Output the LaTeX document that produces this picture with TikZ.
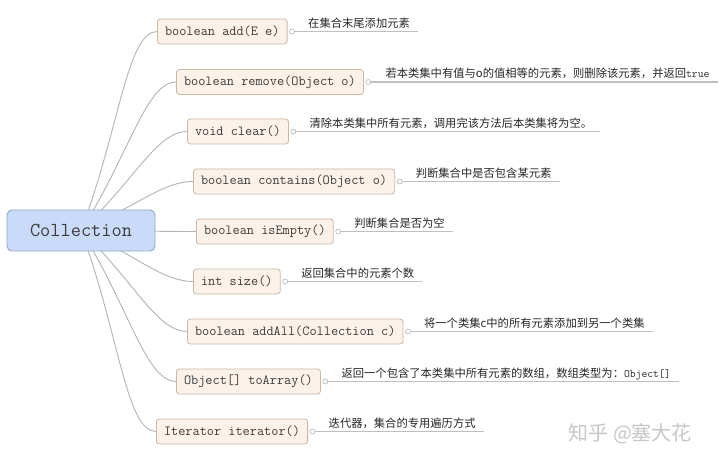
\documentclass[tikz,border=0pt]{standalone}
\usepackage{fontspec}
\newfontfamily\cjk{Noto Sans CJK SC}
\usetikzlibrary{calc,backgrounds}

\definecolor{rootfill}{HTML}{C9DBF8}
\definecolor{rootline}{HTML}{8FA6C9}
\definecolor{boxfill}{HTML}{FDF2EA}
\definecolor{boxline}{HTML}{C9B8A6}
\definecolor{wire}{HTML}{B4B4B4}
\definecolor{codetext}{HTML}{3C3C3C}

\tikzset{
  rootbox/.style = {draw=rootline, fill=rootfill, rounded corners=5pt, line width=0.9pt,
                    minimum width=148pt, minimum height=41pt, text=codetext,
                    font=\fontsize{19.8}{22}\selectfont\ttfamily},
  method/.style  = {draw=boxline, fill=boxfill, rounded corners=3pt, anchor=west, line width=0.8pt,
                    minimum height=25pt, inner xsep=7.6pt, inner ysep=0pt, text=codetext,
                    font=\fontsize{13.9}{16}\selectfont\ttfamily},
  knob/.style    = {circle, draw=wire, fill=white, inner sep=0pt, minimum size=5pt, line width=0.6pt},
  desc/.style    = {anchor=base west, inner sep=0pt, text=black!85,
                    font=\fontsize{11.3}{13}\selectfont\cjk},
  descline/.style = {draw=black!25, line width=1.3pt},
  branch/.style  = {draw=wire, line width=0.9pt,
                    to path={.. controls ($(\tikztostart)!0.5!(\tikztotarget)$)
                             and ($(\tikztotarget)+(-30,0)$) .. (\tikztotarget)}},
}

\begin{document}
\begin{tikzpicture}[x=1pt, y=1pt]
    \useasboundingbox (0,0) rectangle (720,464);
    \node[rootbox] (root) at (81, 233.5) {Collection};
    % methods
    \node[method] (m1) at (157, 432.5) {boolean add(E e)};
    \node[method] (m2) at (176, 382)   {boolean remove(Object o)};
    \node[method] (m3) at (187, 332.5) {void clear()};
    \node[method] (m4) at (193, 282.5) {boolean contains(Object o)};
    \node[method] (m5) at (196, 232.5) {boolean isEmpty()};
    \node[method] (m6) at (193, 182.5) {int size()};
    \node[method] (m7) at (187, 132.5) {boolean addAll(Collection c)};
    \node[method] (m8) at (176, 82.5)  {Object[] toArray()};
    \node[method] (m9) at (156, 32.5)  {Iterator iterator()};
    % notes
    \foreach \i in {1,...,9}
      \node[knob] (k\i) at ([xshift=4.5pt]m\i.east) {};
    \node[desc] (d1) at ([xshift=16pt, yshift=4pt]k1.center) {在集合末尾添加元素};
    \node[desc] (d2) at ([xshift=17pt, yshift=4pt]k2.center) {若本类集中有值与o的值相等的元素，则删除该元素，并返回{\ttfamily true}};
    \node[desc] (d3) at ([xshift=16pt, yshift=4pt]k3.center) {清除本类集中所有元素，调用完该方法后本类集将为空。};
    \node[desc] (d4) at ([xshift=16pt, yshift=4pt]k4.center) {判断集合中是否包含某元素};
    \node[desc] (d5) at ([xshift=16pt, yshift=4pt]k5.center) {判断集合是否为空};
    \node[desc] (d6) at ([xshift=16pt, yshift=4pt]k6.center) {返回集合中的元素个数};
    \node[desc] (d7) at ([xshift=16pt, yshift=4pt]k7.center) {将一个类集c中的所有元素添加到另一个类集};
    \node[desc] (d8) at ([xshift=16pt, yshift=4pt]k8.center) {返回一个包含了本类集中所有元素的数组，数组类型为：{\ttfamily Object[]}};
    \node[desc] (d9) at ([xshift=16pt, yshift=4pt]k9.center) {迭代器，集合的专用遍历方式};
    \foreach \i in {1,...,9}
      \draw[descline] (k\i) -- (k\i -| d\i.east) -- ++(8,0);
    \node[anchor=west, text=black!22, font=\fontsize{20}{24}\selectfont\cjk] (mark) at (565, 30) {知乎 @塞大花};
    \begin{scope}[on background layer]
      \fill[white] (0,0) rectangle (720,464);
      \foreach \i in {1,...,9}
        \draw[branch] (root.center) to (m\i.west);
    \end{scope}
\end{tikzpicture}
\end{document}
